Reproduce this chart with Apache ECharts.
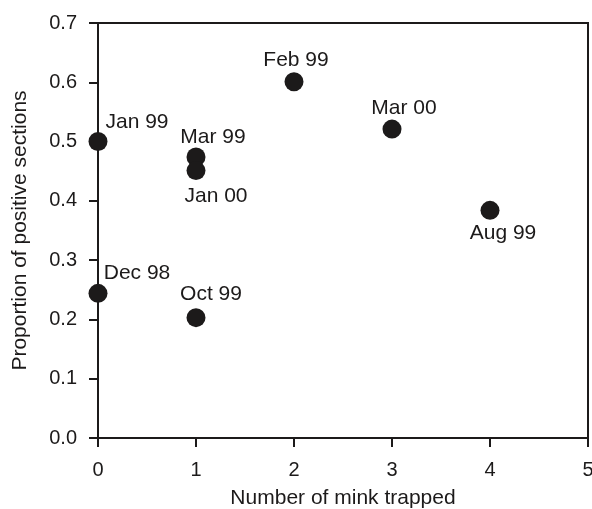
<!DOCTYPE html>
<html>
<head>
<meta charset="utf-8">
<script src="https://cdn.jsdelivr.net/npm/echarts@6/dist/echarts.min.js"></script>
<style>
  html, body { margin: 0; padding: 0; background: #fff; }
  #chart { width: 592px; height: 509px; }
</style>
</head>
<body>
<div id="chart"></div>
<script>
// sampling months, mink trapped, proportion of positive sections
var months = ['Jan 99', 'Mar 99', 'Jan 00', 'Feb 99', 'Mar 00', 'Aug 99', 'Dec 98', 'Oct 99'];
var minkTrapped = [0, 1, 1, 2, 3, 4, 0, 1];
var positiveProportion = [0.5, 0.474, 0.451, 0.601, 0.521, 0.384, 0.244, 0.203];

var ink = '#1c1a1a';
var font = 'Liberation Sans, Arial, Helvetica, sans-serif';

// where each label sits relative to its dot
var labelOffset = {
    'Jan 99': [39, -19],
    'Mar 99': [17, -20],
    'Jan 00': [20, 26],
    'Feb 99': [2, -21],
    'Mar 00': [12, -21],
    'Aug 99': [13, 23],
    'Dec 98': [39, -20],
    'Oct 99': [15, -23]
};

var points = months.map(function (m, i) {
    return {
        name: m,
        value: [minkTrapped[i], positiveProportion[i]],
        label: {offset: labelOffset[m]}
    };
});

var chart = echarts.init(document.getElementById('chart'));
chart.setOption({
    animation: false,
    grid: {
        left: 98, right: 4, top: 23, bottom: 71,
        outerBoundsMode: 'none',
        containLabel: false,
        show: true,
        borderColor: ink,
        borderWidth: 2
    },
    xAxis: {
        type: 'value',
        min: 0, max: 5, interval: 1,
        name: 'Number of mink trapped',
        nameLocation: 'middle',
        nameGap: 50,
        nameTextStyle: {color: ink, fontSize: 21, fontFamily: font},
        axisLine: {lineStyle: {color: ink, width: 2}},
        axisTick: {length: 9, lineStyle: {color: ink, width: 2}},
        axisLabel: {color: ink, fontSize: 20, fontFamily: font, margin: 22},
        splitLine: {show: false}
    },
    yAxis: {
        type: 'value',
        min: 0, max: 0.7, interval: 0.1,
        name: 'Proportion of positive sections',
        nameLocation: 'middle',
        nameGap: 67,
        nameTextStyle: {color: ink, fontSize: 21, fontFamily: font},
        axisLine: {lineStyle: {color: ink, width: 2}},
        axisTick: {length: 9, lineStyle: {color: ink, width: 2}},
        axisLabel: {
            color: ink, fontSize: 20, fontFamily: font, margin: 21,
            formatter: function (v) { return v.toFixed(1); }
        },
        splitLine: {show: false}
    },
    series: [{
        type: 'scatter',
        symbolSize: 19,
        itemStyle: {color: ink, opacity: 1},
        label: {
            show: true,
            position: 'inside',
            formatter: '{b}',
            color: ink,
            opacity: 1,
            fontSize: 21,
            fontFamily: font
        },
        data: points
    }]
});
</script>
</body>
</html>
